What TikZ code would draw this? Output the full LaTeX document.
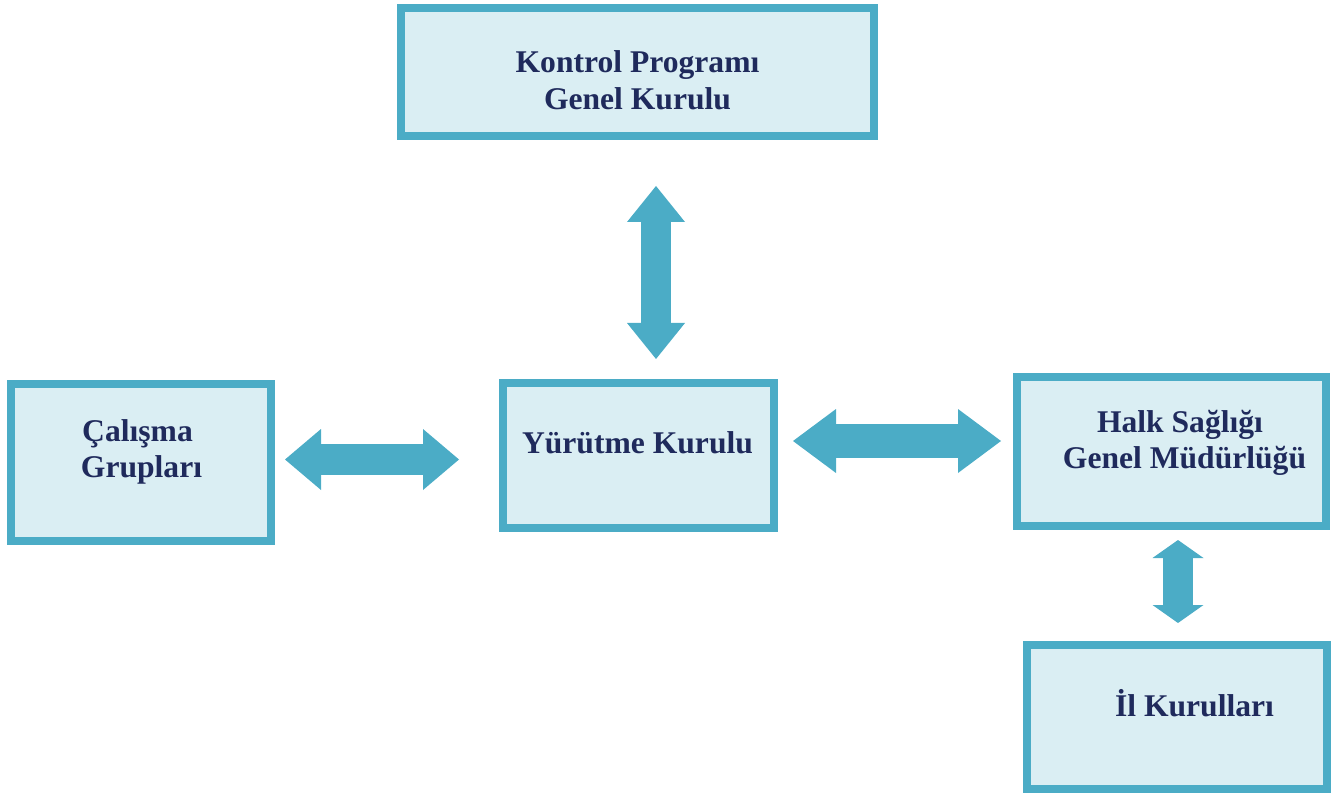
\documentclass[tikz,border=0pt]{standalone}
\usepackage{fontspec}
\setmainfont{Liberation Serif}
\usetikzlibrary{arrows.meta}

\definecolor{frame}{HTML}{4BACC6}
\definecolor{panel}{HTML}{DAEEF3}
\definecolor{ink}{RGB}{31,42,92}

\tikzset{
  box/.style={draw=frame, fill=panel, line width=8pt, inner sep=0pt},
  lbl/.style={anchor=base, inner sep=0pt, text=ink,
              font=\fontsize{31.6}{36}\selectfont\bfseries},
  % block double arrow: head width, shaft width, head length (all in pt)
  fat/.style n args={3}{draw=frame, line width=#2pt,
    arrows={Triangle[width=#1pt,length=#3pt,line width=0pt]-Triangle[width=#1pt,length=#3pt,line width=0pt]}}
}

\begin{document}
\begin{tikzpicture}[x=1pt, y=-1pt]
\useasboundingbox (0,0) rectangle (1331,794);

% boxes
\node[box, minimum width=473pt, minimum height=128pt] (kontrol) at (637.5,72) {};
\node[box, minimum width=260pt, minimum height=157pt] (calisma) at (141,462.5) {};
\node[box, minimum width=271pt, minimum height=145pt] (yurutme) at (638.5,455.5) {};
\node[box, minimum width=309pt, minimum height=149pt] (halk) at (1171.5,451.5) {};
\node[box, minimum width=300pt, minimum height=144pt] (il) at (1177,717) {};

% box texts
\node[lbl] (kontrol-1) at (637.5,73) {Kontrol Programı};
\node[lbl] (kontrol-2) at (637.5,110) {Genel Kurulu};
\node[lbl] (calisma-1) at (137.5,441) {Çalışma};
\node[lbl] (calisma-2) at (141.5,477) {Grupları};
\node[lbl] (yurutme-1) at (637.5,453) {Yürütme Kurulu};
\node[lbl] (halk-1) at (1180,432) {Halk Sağlığı};
\node[lbl] (halk-2) at (1184.5,468) {Genel Müdürlüğü};
\node[lbl] (il-1) at (1194.5,716) {İl Kurulları};

% arrow end points
\coordinate (ky-a) at (656,186);
\coordinate (ky-b) at (656,359);
\coordinate (cy-a) at (285,459.5);
\coordinate (cy-b) at (459,459.5);
\coordinate (yh-a) at (793,441);
\coordinate (yh-b) at (1001,441);
\coordinate (hi-a) at (1178,540);
\coordinate (hi-b) at (1178,623);

% block double arrows
\draw[fat={58}{30}{36}] (ky-a) -- (ky-b);
\draw[fat={61}{31}{36}] (cy-a) -- (cy-b);
\draw[fat={64}{34}{43}] (yh-a) -- (yh-b);
\draw[fat={51}{30}{18}] (hi-a) -- (hi-b);
\end{tikzpicture}
\end{document}
